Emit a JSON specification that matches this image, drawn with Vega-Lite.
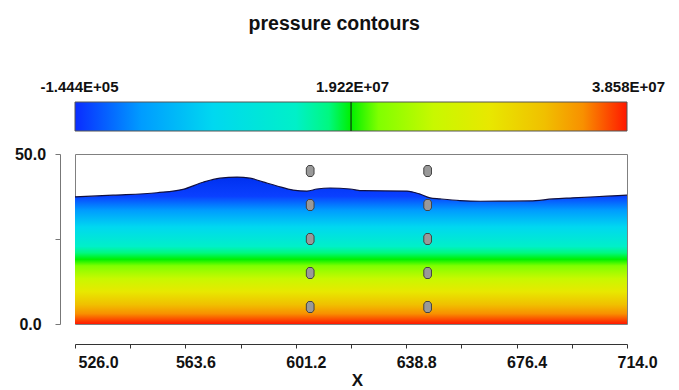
{
  "$schema": "https://vega.github.io/schema/vega-lite/v6.json",
  "title": {"text": "pressure contours", "fontSize": 19.5, "font": "Liberation Sans", "fontWeight": "bold", "color": "#111111", "anchor": "middle", "dx": -5, "offset": 45},
  "padding": {"left": 13, "top": 13, "right": 10, "bottom": 2},
  "config": {"font": "Liberation Sans", "view": {"stroke": "#808080"}},
  "bounds": "flush",
  "spacing": 23,
  "datasets": {
    "bar": [{"lo": -144400, "hi": 38580000, "mid": 19220000}],
    "surface": [
      {"x": 526, "top": 37.4},
      {"x": 539, "top": 37.9},
      {"x": 553.9, "top": 38.6},
      {"x": 562.8, "top": 39.6},
      {"x": 569.6, "top": 41.7},
      {"x": 575.4, "top": 42.9},
      {"x": 581.2, "top": 43.2},
      {"x": 585.6, "top": 42.9},
      {"x": 590, "top": 41.8},
      {"x": 594.8, "top": 40.6},
      {"x": 600.3, "top": 39.4},
      {"x": 605, "top": 39.1},
      {"x": 608.4, "top": 39.7},
      {"x": 612.9, "top": 40.0},
      {"x": 619.7, "top": 39.7},
      {"x": 624.1, "top": 39.2},
      {"x": 639.1, "top": 39.1},
      {"x": 643.5, "top": 38.2},
      {"x": 646.9, "top": 37.1},
      {"x": 650.3, "top": 36.8},
      {"x": 657.1, "top": 36.3},
      {"x": 664, "top": 36.1},
      {"x": 681, "top": 36.2},
      {"x": 688.8, "top": 36.8},
      {"x": 695.6, "top": 37.1},
      {"x": 707.2, "top": 37.6},
      {"x": 714, "top": 37.9}
    ],
    "gauges": [
      {"x": 606.1, "y": 45}, {"x": 606.1, "y": 35}, {"x": 606.1, "y": 25}, {"x": 606.1, "y": 15}, {"x": 606.1, "y": 5},
      {"x": 646.1, "y": 45}, {"x": 646.1, "y": 35}, {"x": 646.1, "y": 25}, {"x": 646.1, "y": 15}, {"x": 646.1, "y": 5}
    ]
  },
  "vconcat": [
    {
      "width": 552,
      "height": 29,
      "view": {"stroke": null},
      "data": {"name": "bar"},
      "layer": [
        {
          "mark": {"type": "rect", "stroke": "#555555", "strokeWidth": 1,
            "fill": {"gradient": "linear", "x1": 0, "y1": 0, "x2": 1, "y2": 0, "stops": [
              {"offset": 0.0, "color": "#0a2cff"},
              {"offset": 0.12, "color": "#009cff"},
              {"offset": 0.25, "color": "#00d8f0"},
              {"offset": 0.4, "color": "#00f0c8"},
              {"offset": 0.46, "color": "#00f880"},
              {"offset": 0.5, "color": "#00f000"},
              {"offset": 0.55, "color": "#80ff00"},
              {"offset": 0.65, "color": "#c8f800"},
              {"offset": 0.75, "color": "#e8e800"},
              {"offset": 0.85, "color": "#f0c000"},
              {"offset": 0.92, "color": "#f89000"},
              {"offset": 1.0, "color": "#ff1800"}
            ]}},
          "encoding": {
            "x": {"field": "lo", "type": "quantitative",
              "scale": {"domain": [-144400, 38580000], "nice": false, "zero": false},
              "axis": {"orient": "top", "title": null, "domain": false, "ticks": false, "grid": false,
                "values": [-144400, 19220000, 38580000],
                "labelExpr": "datum.value < 0 ? '-1.444E+05' : (datum.value < 30000000 ? '1.922E+07' : '3.858E+07')",
                "labelFont": "Liberation Sans", "labelFontWeight": "bold", "labelFontSize": 15, "labelColor": "#111111",
                "labelPadding": 8, "labelOverlap": false, "labelFlush": false,
                "labelOffset": {"condition": {"test": "datum.value < 0", "value": 4}, "value": 1}}},
            "x2": {"field": "hi"}
          }
        },
        {
          "mark": {"type": "rule", "color": "#111111", "strokeWidth": 1},
          "encoding": {"x": {"field": "mid", "type": "quantitative"}}
        }
      ]
    },
    {
      "width": 552,
      "height": 170,
      "layer": [
        {
          "data": {"name": "surface"},
          "mark": {"type": "area", "interpolate": "monotone",
            "fill": {"gradient": "linear", "x1": 0, "y1": 1, "x2": 0, "y2": 0, "stops": [
              {"offset": 0.0, "color": "#ff1800"},
              {"offset": 0.07, "color": "#f89000"},
              {"offset": 0.132, "color": "#f0c000"},
              {"offset": 0.22, "color": "#e8e800"},
              {"offset": 0.308, "color": "#c8f800"},
              {"offset": 0.396, "color": "#80ff00"},
              {"offset": 0.44, "color": "#00f000"},
              {"offset": 0.484, "color": "#00f880"},
              {"offset": 0.528, "color": "#00f0c8"},
              {"offset": 0.66, "color": "#00d8f0"},
              {"offset": 0.774, "color": "#009cff"},
              {"offset": 0.87, "color": "#0a40ff"},
              {"offset": 1.0, "color": "#0030f0"}
            ]}},
          "encoding": {
            "x": {"field": "x", "type": "quantitative",
              "scale": {"domain": [526, 714], "nice": false, "zero": false},
              "axis": {"title": "X", "titleFont": "Liberation Sans", "titleFontWeight": "bold", "titleFontSize": 17, "titleColor": "#111111",
                "titlePadding": 2, "titleX": 282,
                "offset": 20, "grid": false,
                "values": [526, 544.8, 563.6, 582.4, 601.2, 620, 638.8, 657.6, 676.4, 695.2, 714],
                "labelExpr": "abs((datum.value-526)/37.6 - round((datum.value-526)/37.6)) < 0.01 ? format(datum.value, '.1f') : ''",
                "labelFont": "Liberation Sans", "labelFontWeight": "bold", "labelFontSize": 16, "labelColor": "#111111",
                "labelOverlap": false, "labelPadding": 6, "labelFlush": false,
                "labelOffset": {"condition": {"test": "datum.value < 530", "value": 23}, "value": 10},
                "domainColor": "#333333", "tickColor": "#333333", "tickSize": 4}},
            "y": {"field": "top", "type": "quantitative",
              "scale": {"domain": [0, 50], "nice": false},
              "axis": {"title": null, "offset": 15, "grid": false,
                "values": [0, 25, 50],
                "labelExpr": "datum.value == 25 ? '' : format(datum.value, '.1f')",
                "labelFont": "Liberation Sans", "labelFontWeight": "bold", "labelFontSize": 16, "labelColor": "#111111",
                "labelAlign": "center", "labelBaseline": "middle", "labelPadding": 25, "labelOverlap": false,
                "domainColor": "#777777", "tickColor": "#777777", "tickSize": 5}}
          }
        },
        {
          "data": {"name": "surface"},
          "mark": {"type": "line", "interpolate": "monotone", "color": "#101040", "strokeWidth": 1.2},
          "encoding": {
            "x": {"field": "x", "type": "quantitative"},
            "y": {"field": "top", "type": "quantitative"}
          }
        },
        {
          "data": {"name": "gauges"},
          "mark": {"type": "point", "filled": true, "fill": "#999999", "stroke": "#444444", "strokeWidth": 1, "opacity": 1, "size": 121,
            "shape": "M-0.35,-1L0.35,-1L0.7,-0.55L0.7,0.55L0.35,1L-0.35,1L-0.7,0.55L-0.7,-0.55Z"},
          "encoding": {
            "x": {"field": "x", "type": "quantitative"},
            "y": {"field": "y", "type": "quantitative"}
          }
        }
      ]
    }
  ]
}
